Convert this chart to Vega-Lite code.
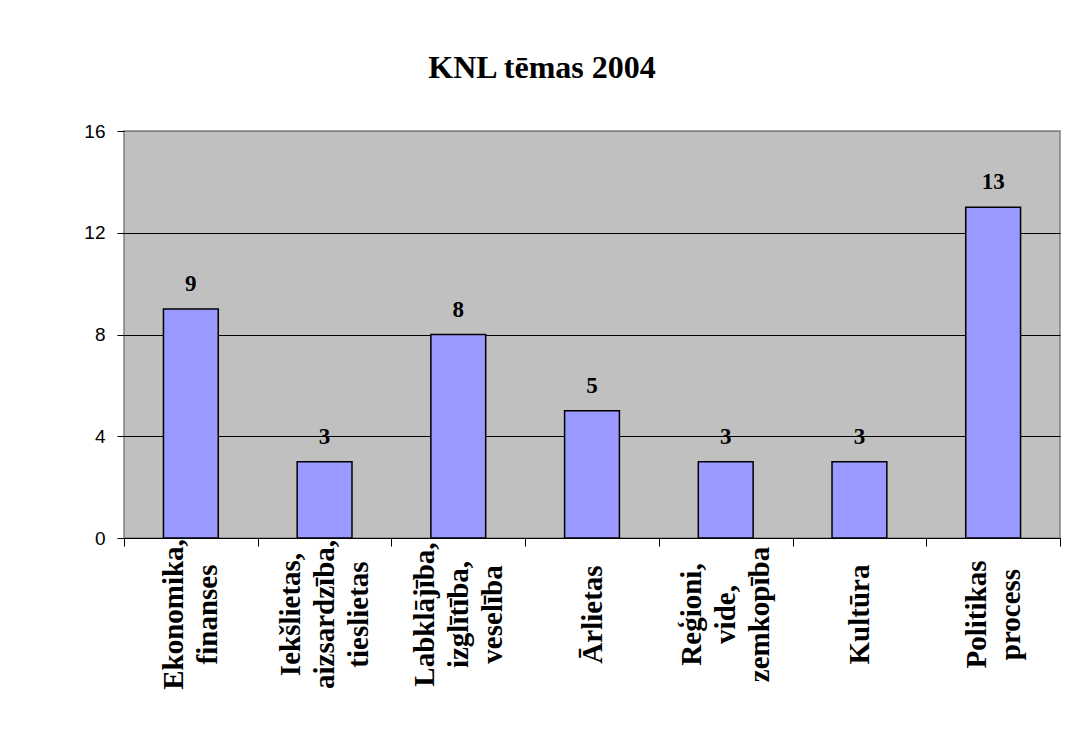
{
  "$schema": "https://vega.github.io/schema/vega-lite/v6.json",
  "width": 936,
  "height": 407,
  "autosize": {"type": "none"},
  "padding": {"left": 124, "top": 131, "right": 24, "bottom": 191},
  "background": "white",
  "title": {
    "text": "KNL tēmas 2004",
    "font": "Liberation Serif",
    "fontSize": 32,
    "fontWeight": "bold",
    "color": "black",
    "anchor": "middle",
    "dx": -50,
    "dy": 4,
    "offset": 41
  },
  "data": {
    "values": [
      {"tema": "Ekonomika,|finanses", "n": 9},
      {"tema": "Iekšlietas,|aizsardzība,|tieslietas", "n": 3},
      {"tema": "Labklājība,|izglītība,|veselība", "n": 8},
      {"tema": "Ārlietas", "n": 5},
      {"tema": "Reģioni,|vide,|zemkopība", "n": 3},
      {"tema": "Kultūra", "n": 3},
      {"tema": "Politikas|process", "n": 13}
    ]
  },
  "encoding": {
    "x": {
      "field": "tema",
      "type": "nominal",
      "sort": null,
      "scale": {"paddingInner": 0, "paddingOuter": 0},
      "axis": {
        "title": null,
        "labelExpr": "split(datum.label, '|')",
        "labelAngle": -90,
        "labelAlign": "center",
        "labelBaseline": "middle",
        "labelFont": "Liberation Serif",
        "labelFontWeight": "bold",
        "labelFontSize": 29,
        "labelLineHeight": 34,
        "labelPadding": 68,
        "labelColor": "black",
        "labelOverlap": false,
        "labelBound": false,
        "labelLimit": 0,
        "labelOffset": {
          "condition": [
            {"test": "length(split(datum.value, '|')) === 3", "value": -34},
            {"test": "length(split(datum.value, '|')) === 2", "value": -17}
          ],
          "value": 0
        },
        "tickBand": "extent",
        "tickSize": 8,
        "tickColor": "black",
        "domainColor": "black",
        "domainWidth": 1,
        "grid": false
      }
    },
    "y": {
      "field": "n",
      "type": "quantitative",
      "scale": {"domain": [0, 16], "nice": false},
      "axis": {
        "title": null,
        "values": [0, 4, 8, 12, 16],
        "labelFont": "Liberation Sans",
        "labelFontSize": 19,
        "labelColor": "black",
        "labelPadding": 12,
        "tickSize": 7,
        "tickColor": "black",
        "domain": false,
        "grid": true,
        "gridColor": {"condition": {"test": "datum.value === 16", "value": "#808080"}, "value": "black"},
        "gridWidth": 1,
        "gridOpacity": 1
      }
    }
  },
  "layer": [
    {
      "mark": {"type": "bar", "color": "#9999FF", "stroke": "black", "strokeWidth": 1.5, "width": {"band": 0.41}}
    },
    {
      "mark": {"type": "text", "font": "Liberation Serif", "fontSize": 23, "fontWeight": "bold", "color": "black", "baseline": "alphabetic", "dy": -18},
      "encoding": {"text": {"field": "n", "type": "quantitative"}}
    }
  ],
  "config": {
    "view": {"stroke": "#808080", "strokeWidth": 1.5, "fill": "#C0C0C0"}
  }
}
